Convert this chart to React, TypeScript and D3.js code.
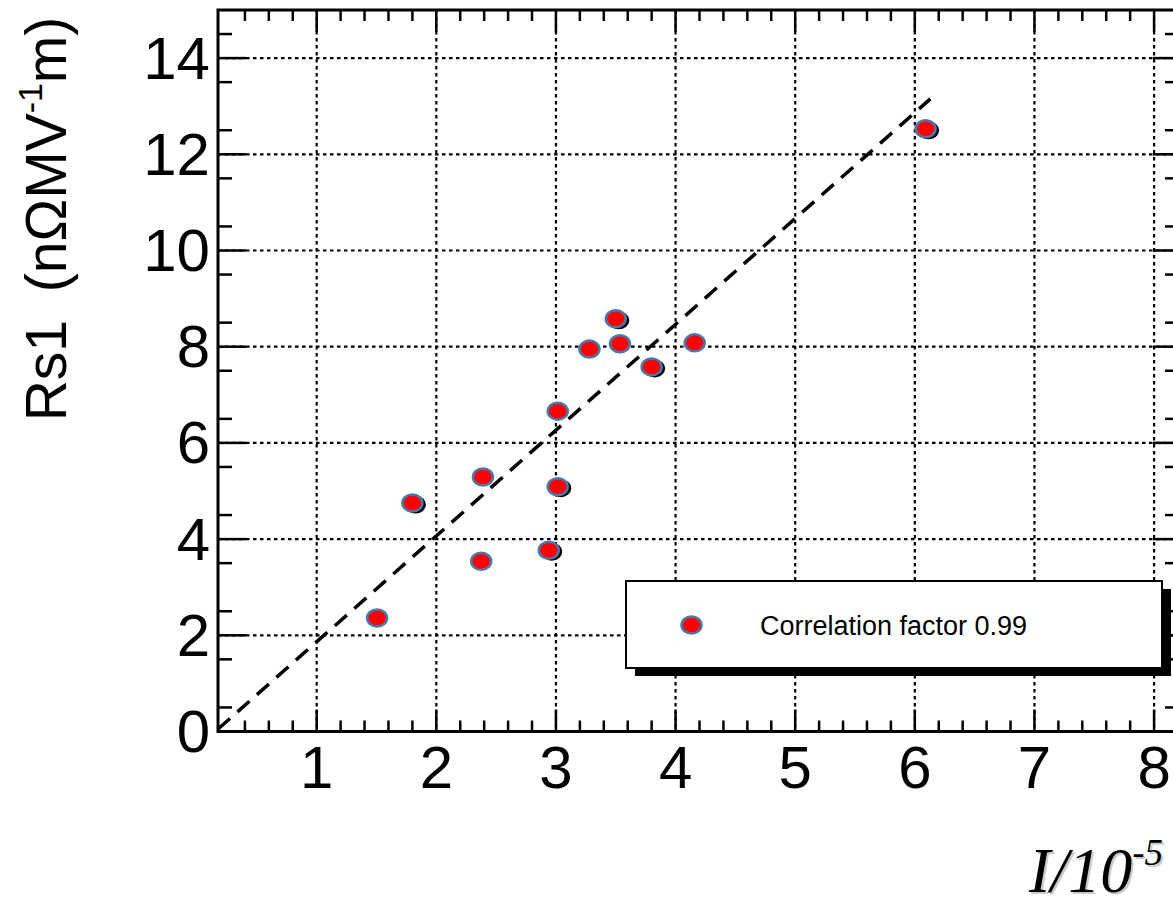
import React from 'react'
import * as d3 from 'd3'

// measured points (I/10^-5 vs Rs1)
const xVals = [1.505, 1.8, 2.39, 2.375, 2.94, 3.015, 3.015, 3.28, 3.5, 3.535, 3.8, 4.16, 6.09]
const yVals = [2.36, 4.75, 5.29, 3.54, 3.77, 5.09, 6.66, 7.95, 8.58, 8.06, 7.58, 8.08, 12.53]
// points that show a dark duplicate marker behind them
const shadowed = [1, 4, 5, 8, 10, 12]

const xTickVals = [1, 2, 3, 4, 5, 6, 7, 8]
const yTickVals = [0, 2, 4, 6, 8, 10, 12, 14]

const fitSlope = 2.2
const fitIntercept = -0.334
const fitFrom = 0.175
const fitTo = 6.13

const legendLabel = 'Correlation factor 0.99'

const W = 1173
const H = 901

export default function App() {
  const x = d3.scaleLinear().domain([0.175, 8.2]).range([218, 1178])
  const y = d3.scaleLinear().domain([0, 15]).range([731.5, 10])

  const [x0, x1] = x.range()
  const [y0, y1] = y.range()

  const xMinor = d3.range(0.2, 8.2, 0.2).filter(v => v > 0.25 && Math.abs(v - Math.round(v)) > 0.01)
  const yMinor = d3.range(0.5, 15, 1)

  const fitLine = d3.line<number>()
    .x(d => x(d))
    .y(d => y(fitSlope * d + fitIntercept))

  const pts = xVals.map((v, i) => ({ x: v, y: yVals[i], i }))

  const tickStroke = { stroke: '#000', strokeWidth: 2.5 }

  return (
    <svg width={W} height={H} style={{ position: 'absolute', left: 0, top: 0, background: '#fff' }}>
      <style>{`body{margin:0}`}</style>
      <rect x={0} y={0} width={W} height={H} fill="#fff" />

      {/* grid */}
      <g stroke="#000" strokeWidth={2.2} strokeDasharray="3.5,3.5">
        {xTickVals.map(t => (
          <line key={'gx' + t} x1={x(t)} x2={x(t)} y1={y1} y2={y0} />
        ))}
        {yTickVals.filter(t => t > 0).map(t => (
          <line key={'gy' + t} x1={x0} x2={x1} y1={y(t)} y2={y(t)} />
        ))}
      </g>

      {/* ticks */}
      <g {...tickStroke}>
        {xTickVals.map(t => (
          <g key={'tx' + t}>
            <line x1={x(t)} x2={x(t)} y1={y0} y2={y0 - 22} />
            <line x1={x(t)} x2={x(t)} y1={y1} y2={y1 + 22} />
          </g>
        ))}
        {xMinor.map(t => (
          <g key={'mx' + t}>
            <line x1={x(t)} x2={x(t)} y1={y0} y2={y0 - 11} />
            <line x1={x(t)} x2={x(t)} y1={y1} y2={y1 + 11} />
          </g>
        ))}
        {yTickVals.map(t => (
          <g key={'ty' + t}>
            <line x1={x0} x2={x0 + 28} y1={y(t)} y2={y(t)} />
            <line x1={x1} x2={x1 - 25} y1={y(t)} y2={y(t)} />
          </g>
        ))}
        {yMinor.map(t => (
          <g key={'my' + t}>
            <line x1={x0} x2={x0 + 14} y1={y(t)} y2={y(t)} />
            <line x1={x1} x2={x1 - 13} y1={y(t)} y2={y(t)} />
          </g>
        ))}
      </g>

      {/* frame */}
      <rect x={x0} y={y1} width={x1 - x0} height={y0 - y1} fill="none" stroke="#000" strokeWidth={3} />

      {/* fit line */}
      <path
        d={fitLine([fitFrom, fitTo]) || ''}
        fill="none"
        stroke="#000"
        strokeWidth={3.5}
        strokeDasharray="16,10"
      />

      {/* points */}
      <g>
        {pts.filter(p => shadowed.includes(p.i)).map(p => (
          <ellipse key={'s' + p.i} cx={x(p.x) + 3} cy={y(p.y) + 1.5} rx={10.5} ry={9} fill="#000" />
        ))}
        {pts.map(p => (
          <ellipse key={'p' + p.i} cx={x(p.x)} cy={y(p.y)} rx={10} ry={8.5} fill="#ff0000" stroke="#4a78a8" strokeWidth={2.5} />
        ))}
      </g>

      {/* tick labels */}
      <g fontFamily="'Liberation Sans', Arial, sans-serif" fontSize={60} fill="#000">
        {yTickVals.map(t => (
          <text key={'ly' + t} x={210} y={y(t)} textAnchor="end" dominantBaseline="central">{t}</text>
        ))}
        {xTickVals.map(t => (
          <text key={'lx' + t} x={x(t)} y={788} textAnchor="middle">{t}</text>
        ))}
      </g>

      {/* legend */}
      <rect x={635} y={589} width={536} height={87} fill="#000" />
      <rect x={626} y={581} width={536} height={87} fill="#fff" stroke="#000" strokeWidth={2} />
      <ellipse cx={691.5} cy={625} rx={10} ry={8.5} fill="#ff0000" stroke="#4a78a8" strokeWidth={2.5} />
      <text x={760} y={635} fontFamily="'Liberation Sans', Arial, sans-serif" fontSize={27} fill="#000">
        {legendLabel}
      </text>

      {/* y axis title */}
      <text
        transform="translate(66,219) rotate(-90)"
        textAnchor="middle"
        fontFamily="'Liberation Sans', Arial, sans-serif"
        fontSize={57}
        fill="#000"
      >
        <tspan>Rs1 </tspan>
        <tspan dx={12}>(nΩMV</tspan>
        <tspan fontSize={34} dy={-24}>-1</tspan>
        <tspan dy={24}>m)</tspan>
      </text>

      {/* x axis title */}
      <g fontFamily="'Liberation Serif', 'Times New Roman', serif" fontStyle="italic" fill="#000">
        <text x={1163} y={892} fontSize={64} textAnchor="end" fill="#999" opacity={0.5} transform="translate(2,2)">
          I/10<tspan fontSize={37} dy={-27}>-5</tspan>
        </text>
        <text x={1163} y={892} fontSize={64} textAnchor="end">
          I/10<tspan fontSize={37} dy={-27}>-5</tspan>
        </text>
      </g>
    </svg>
  )
}
